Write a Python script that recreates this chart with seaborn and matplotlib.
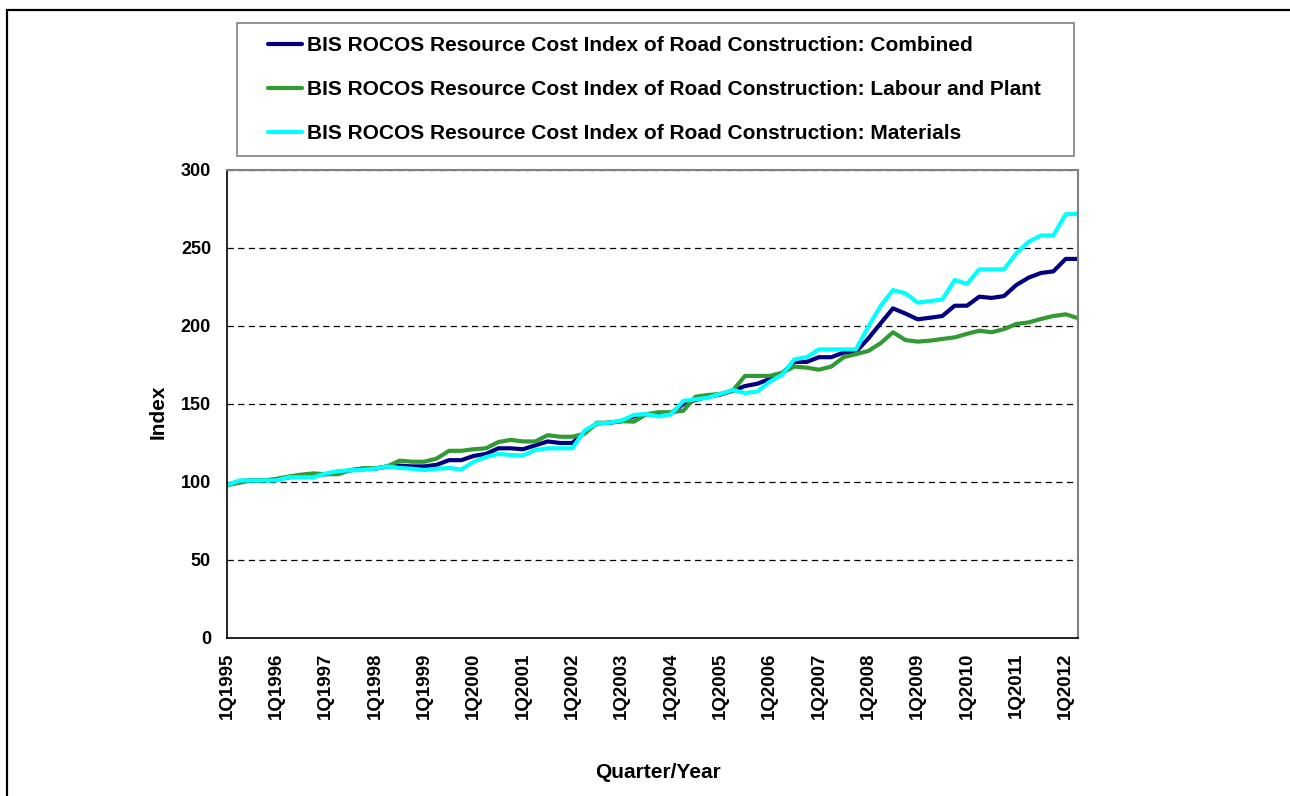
import matplotlib

matplotlib.use("Agg")
import matplotlib.pyplot as plt
import pandas as pd
import seaborn as sns
from matplotlib.patches import Rectangle

# ---------------------------------------------------------------------------
# data
# ---------------------------------------------------------------------------
QUARTERS = [f"{q}Q{y}" for y in range(1995, 2013) for q in range(1, 5)][:70]

COMBINED = [
    98, 100.5, 101, 101, 101.5, 103, 104, 104.5, 105, 106,
    107.5, 108.5, 108.5, 110, 110.5, 110, 110, 111, 114, 114,
    116.7, 118, 121.6, 121.6, 121, 123.5, 126, 125, 125, 132,
    137.5, 138, 139, 142, 143.5, 143, 144, 150, 152.6, 154.7,
    156, 158.5, 161.5, 163, 166, 169.6, 177, 177, 180, 180,
    183, 183.5, 192, 201.7, 211.3, 208, 204.3, 205.3, 206.4, 213,
    213, 218.8, 218, 219.2, 226.3, 231, 234, 235, 243, 243,
]
LABOUR_PLANT = [
    98, 99.5, 101, 101, 102, 103.5, 104.7, 105.5, 105, 105,
    107.5, 108.8, 108.8, 110, 113.7, 113, 113, 115, 120, 120,
    121, 121.6, 125.6, 127, 126, 126, 130, 129, 129, 131,
    138, 138, 139, 138.7, 143.5, 144.7, 144.7, 145.7, 154.7, 155.8,
    156.4, 158.5, 168, 168, 168, 170, 174, 173.3, 172, 174,
    180, 182, 184, 189, 196, 191, 190, 190.6, 191.7, 192.7,
    195, 197, 196, 198, 201.3, 202.3, 204.5, 206.4, 207.5, 205,
]
MATERIALS = [
    98, 101, 101, 101, 101, 103, 103, 103, 105.5, 107,
    107.5, 107.7, 108.5, 110, 109, 108.5, 107.7, 108.5, 109, 108,
    113, 116, 118, 117.3, 117, 120.5, 121.6, 121.6, 121.6, 133,
    137.5, 138, 139.5, 143, 143.5, 142, 143.4, 152, 153, 154,
    156.4, 159, 157, 158, 164.3, 168.6, 178.6, 180, 185, 185,
    185, 185, 199.6, 212.8, 223, 221, 215, 216, 217, 229.5,
    227, 236.3, 236.3, 236.3, 246.6, 254, 258, 258, 271.6, 272,
]

SERIES = [
    "BIS ROCOS Resource Cost Index of Road Construction: Combined",
    "BIS ROCOS Resource Cost Index of Road Construction: Labour and Plant",
    "BIS ROCOS Resource Cost Index of Road Construction: Materials",
]
COLORS = ["#000080", "#339933", "#00FFFF"]
Y_TICKS = [0, 50, 100, 150, 200, 250, 300]

# ---------------------------------------------------------------------------
# long table for seaborn
# ---------------------------------------------------------------------------
frames = []
for name, values in zip(SERIES, [COMBINED, LABOUR_PLANT, MATERIALS]):
    frames.append(pd.DataFrame({"pos": range(len(QUARTERS)), "value": values, "series": name}))
df = pd.concat(frames, ignore_index=True)

sns.set_style("white")
plt.rcParams["font.family"] = ["Liberation Sans", "DejaVu Sans"]
plt.rcParams["font.weight"] = "bold"
plt.rcParams["text.color"] = "black"
plt.rcParams["axes.labelcolor"] = "black"
plt.rcParams["xtick.color"] = "black"
plt.rcParams["ytick.color"] = "black"

W, H = 1290, 796
fig = plt.figure(figsize=(W / 100, H / 100), dpi=100)
ax = fig.add_axes([227 / W, 1 - 638 / H, (1078 - 227) / W, (638 - 170) / H])

sns.lineplot(
    data=df, x="pos", y="value", hue="series", hue_order=SERIES,
    palette=COLORS, linewidth=3, legend=False, ax=ax,
)

ax.set_xlim(0, len(QUARTERS) - 1)
ax.set_ylim(0, 300)
ax.set_yticks(Y_TICKS)
ax.set_yticklabels([str(v) for v in Y_TICKS], fontsize=13, fontweight="bold")
ax.set_xticks(range(len(QUARTERS)))
ax.set_xticklabels(
    [q if q.startswith("1Q") else "" for q in QUARTERS],
    rotation=90, fontsize=13.5, fontweight="bold",
)
ax.tick_params(axis="x", direction="out", length=4.5, width=1, pad=6, colors="black")
ax.tick_params(axis="y", direction="out", length=4.5, width=1, pad=7, colors="black")
ax.set_xlabel("")
ax.set_ylabel("")

ax.yaxis.grid(True, color="black", linestyle=(0, (5, 3.5)), linewidth=0.9)
ax.xaxis.grid(False)
ax.set_axisbelow(True)
for side in ["left", "bottom"]:
    ax.spines[side].set_color("black")
    ax.spines[side].set_linewidth(1.2)
for side in ["top", "right"]:
    ax.spines[side].set_color("#808080")
    ax.spines[side].set_linewidth(1.5)

fig.text(158 / W, 1 - 412 / H, "Index", rotation=90, ha="center", va="center",
         fontsize=15, fontweight="bold")
fig.text(658 / W, 1 - 772 / H, "Quarter/Year", ha="center", va="center",
         fontsize=15, fontweight="bold")

# legend, frame drawn separately so the box matches the reference
fig.legend(
    handles=ax.lines[:3], labels=SERIES, loc="upper left",
    bbox_to_anchor=(268 / W, 1 - 36 / H), bbox_transform=fig.transFigure,
    frameon=False, borderpad=0, borderaxespad=0, labelspacing=1.2,
    handlelength=1.63, handletextpad=0.25,
    prop={"size": 15, "weight": "bold"},
)
fig.patches.append(Rectangle(
    (237 / W, 1 - 156 / H), (1074 - 237) / W, (156 - 23) / H,
    transform=fig.transFigure, fill=False, edgecolor="#808080", linewidth=1.2,
))
# outer chart frame (clipped at right and bottom in the reference)
fig.patches.append(Rectangle(
    (7 / W, -0.05), 1.1, 1 - 10 / H + 0.05,
    transform=fig.transFigure, fill=False, edgecolor="black", linewidth=1.6,
))

fig.savefig("out.png", dpi=100)
plt.close(fig)
